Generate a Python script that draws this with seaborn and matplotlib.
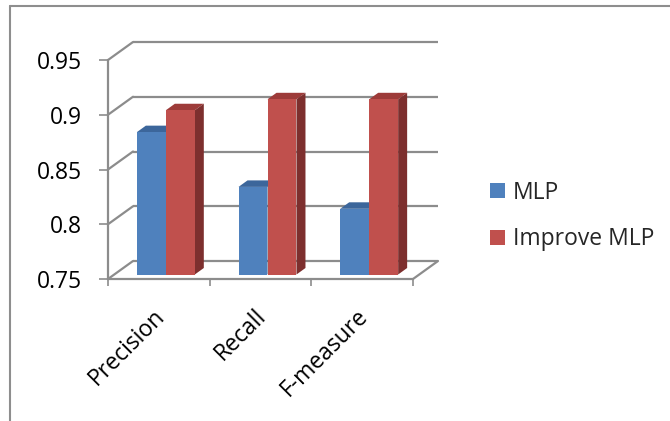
import numpy as np
import pandas as pd
import matplotlib
matplotlib.use("Agg")
import matplotlib.pyplot as plt
from matplotlib.transforms import ScaledTranslation
from matplotlib.patches import Polygon
from matplotlib.lines import Line2D
import seaborn as sns

# ---- data -------------------------------------------------------------
categories = ["Precision", "Recall", "F-measure"]
series_names = ["MLP", "Improve MLP"]
mlp_scores = [0.88, 0.83, 0.81]
improve_mlp_scores = [0.90, 0.91, 0.91]
y_ticks = [0.75, 0.80, 0.85, 0.90, 0.95]
y_tick_labels = ["0.75", "0.8", "0.85", "0.9", "0.95"]

# ---- style ------------------------------------------------------------
front_colors = ["#4F81BD", "#C0504D"]
top_colors = ["#3C669B", "#9D3B39"]
side_colors = ["#335885", "#7D2F2E"]
line_color = "#8C8C8C"
font_size = 16.5

df = pd.DataFrame({
    "metric": categories * 2,
    "score": mlp_scores + improve_mlp_scores,
    "model": [series_names[0]] * len(categories) + [series_names[1]] * len(categories),
})

sns.set_theme(style="white")
plt.rcParams["font.family"] = ["Open Sans", "DejaVu Sans"]

W, H = 670, 421
fig = plt.figure(figsize=(W / 100, H / 100), dpi=100)
# front plane of the 3-D box
ax = fig.add_axes([108 / W, (H - 279) / H, 305 / W, 219 / H])

sns.barplot(data=df, x="metric", y="score", hue="model", order=categories,
            hue_order=series_names, palette=front_colors, width=0.57,
            saturation=1, edgecolor="none", linewidth=0, ax=ax)

ymin, ymax = y_ticks[0], y_ticks[-1]
xmin, xmax = -0.5, len(categories) - 0.5
ax.set_xlim(xmin, xmax)
ax.set_ylim(ymin, ymax)

# pixel -> data conversion for the depth offsets
fig.canvas.draw()
p0 = ax.transData.transform((0, ymin))
p1 = ax.transData.transform((1, ymax))
px_x = (p1[0] - p0[0])                   # pixels per x unit
px_y = (p1[1] - p0[1]) / (ymax - ymin)   # pixels per y unit

def dx(px):
    return px / px_x

def dy(px):
    return px / px_y

# back wall / floor depth, bar position inside the box, bar depth
wall_dx, wall_dy = dx(25), dy(18)
bar_dx, bar_dy = dx(7), dy(4.5)
ext_dx, ext_dy = dx(9), dy(6.5)

# ---- walls and gridlines ---------------------------------------------
lw = 1.6
for yv in y_ticks:
    ax.plot([xmin + wall_dx, xmax + wall_dx], [yv + wall_dy, yv + wall_dy],
            color=line_color, lw=lw, clip_on=False, zorder=1,
            solid_capstyle="butt")
    ax.plot([xmin, xmin + wall_dx], [yv, yv + wall_dy],
            color=line_color, lw=lw, clip_on=False, zorder=1)
# floor: front edge and right edge
ax.plot([xmin, xmax], [ymin, ymin], color=line_color, lw=lw, clip_on=False, zorder=1)
ax.plot([xmax, xmax + wall_dx], [ymin, ymin + wall_dy], color=line_color, lw=lw,
        clip_on=False, zorder=1)
# value axis line
ax.plot([xmin, xmin], [ymin, ymax], color=line_color, lw=lw, clip_on=False, zorder=1)

# ---- extrude bars ------------------------------------------------------
bars = [p for p in ax.patches if p.get_height() > 0][: len(df)]
for i, bar in enumerate(bars):
    s = i // len(categories)
    top = bar.get_height()
    x0 = bar.get_x() + bar_dx
    w = bar.get_width()
    y0 = ymin + bar_dy
    y1 = top + bar_dy
    bar.set_x(x0)
    bar.set_y(y0)
    bar.set_height(y1 - y0)
    bar.set_clip_on(False)
    z = 3 + s
    bar.set_zorder(z + 0.5)
    top_face = Polygon([(x0, y1), (x0 + w, y1), (x0 + w + ext_dx, y1 + ext_dy),
                        (x0 + ext_dx, y1 + ext_dy)], closed=True,
                       facecolor=top_colors[s], edgecolor="none", clip_on=False, zorder=z)
    side_face = Polygon([(x0 + w, y0), (x0 + w + ext_dx, y0 + ext_dy),
                         (x0 + w + ext_dx, y1 + ext_dy), (x0 + w, y1)], closed=True,
                        facecolor=side_colors[s], edgecolor="none", clip_on=False, zorder=z)
    ax.add_patch(top_face)
    ax.add_patch(side_face)

# ---- axes ticks and labels ---------------------------------------------
for sp in ax.spines.values():
    sp.set_visible(False)
ax.set_xlabel("")
ax.set_ylabel("")
ax.set_yticks(y_ticks, y_tick_labels, fontsize=font_size, color="black")
ax.tick_params(axis="y", which="major", direction="out", length=6.5, width=1.2,
               color=line_color, pad=12, left=True)
ax.set_xticks(range(len(categories)), categories, fontsize=font_size,
              rotation=45, ha="right", rotation_mode="anchor", color="black")
ax.tick_params(axis="x", which="major", length=0, pad=18)
shift = ScaledTranslation(-6 / 100, 0, fig.dpi_scale_trans)
for lab in ax.get_xticklabels():
    lab.set_transform(lab.get_transform() + shift)
ax.set_xticks(np.arange(xmin, xmax + 0.01, 1.0), minor=True)
ax.tick_params(axis="x", which="minor", direction="out", length=5, width=1.2,
               color=line_color, bottom=True)
ax.set_facecolor("none")

# ---- legend ------------------------------------------------------------
sns.move_legend(ax, loc="center left", bbox_to_anchor=(490 / W, (H - 216) / H),
                bbox_transform=fig.transFigure, frameon=False, title=None,
                fontsize=font_size, handlelength=0.65, handleheight=0.65,
                handletextpad=0.35, labelspacing=1.0, borderpad=0, borderaxespad=0)

# ---- chart border --------------------------------------------------------
fig.add_artist(Line2D([10 / W, 10 / W], [0, (H - 5.5) / H], transform=fig.transFigure,
                      color="#8E8E8E", lw=1.5))
fig.add_artist(Line2D([10 / W, 1], [(H - 5.5) / H, (H - 5.5) / H],
                      transform=fig.transFigure, color="#8E8E8E", lw=1.5))

fig.savefig("out.png", dpi=100, facecolor="white")
